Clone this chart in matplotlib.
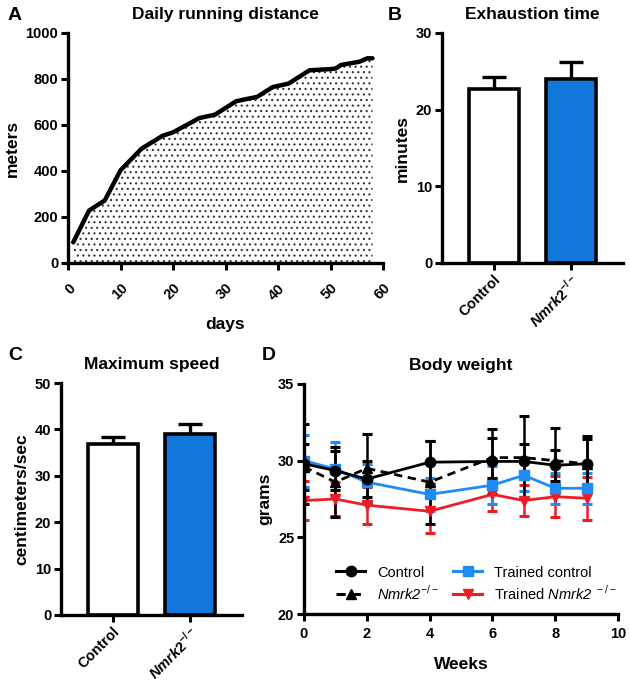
import matplotlib

matplotlib.use("Agg")
import matplotlib.pyplot as plt  # noqa: E402
from matplotlib.lines import Line2D  # noqa: E402

plt.rcParams["font.family"] = ["Liberation Sans", "DejaVu Sans"]
plt.rcParams["font.weight"] = "bold"
plt.rcParams["mathtext.fontset"] = "custom"
plt.rcParams["mathtext.bfit"] = "Liberation Sans:italic:bold"
plt.rcParams["mathtext.sf"] = "Liberation Sans:italic:regular"
plt.rcParams["mathtext.bf"] = "Liberation Sans:bold"
plt.rcParams["mathtext.rm"] = "Liberation Sans:regular"
plt.rcParams["hatch.linewidth"] = 0.8
plt.rcParams["hatch.color"] = "#222222"

# ---------------------------------------------------------------------------
# Data
# ---------------------------------------------------------------------------
# A: daily running distance
days = [1, 4, 7, 10, 14, 18, 20, 25, 28, 32, 34, 36, 39, 42, 46, 50, 51, 52,
        55.5, 57, 58]
meters = [90, 228, 272, 403, 497, 553, 568, 630, 645, 703, 713, 722, 765,
          780, 838, 843, 846, 861, 875, 890, 890]

# B / C: bar groups
groups = ["Control", r"$\mathbfit{Nmrk}\mathbf{2}^{\mathbf{-/-}}$"]
exhaustion_min = [22.7, 24.0]
exhaustion_err = [1.6, 2.2]
speed_cm_s = [36.8, 39.1]
speed_err = [1.6, 2.1]

# D: body weight
weeks = [0, 1, 2, 4, 6, 7, 8, 9]
control_g = [29.8, 29.35, 28.8, 29.9, 29.95, 29.95, 29.7, 29.8]
control_sd = [2.6, 1.25, 1.2, 1.4, 2.1, 1.15, 1.0, 1.6]
nmrk2_g = [29.6, 28.6, 29.5, 28.6, 30.2, 30.2, 30.0, 29.8]
nmrk2_sd = [1.5, 2.3, 2.25, 2.7, 1.3, 2.7, 2.1, 1.8]
trained_control_g = [30.0, 29.45, 28.6, 27.8, 28.4, 29.05, 28.2, 28.2]
trained_control_sd = [1.7, 1.75, 1.2, 1.1, 1.25, 1.05, 1.0, 1.0]
trained_nmrk2_g = [27.4, 27.5, 27.1, 26.7, 27.8, 27.4, 27.65, 27.55]
trained_nmrk2_sd = [1.3, 1.1, 1.2, 1.4, 1.1, 1.0, 1.35, 1.4]

BAR_BLUE = "#1277DB"
LINE_BLUE = "#1E8CF2"
LINE_RED = "#EE1C24"

W, H = 630, 681
fig = plt.figure(figsize=(W / 100, H / 100), dpi=100)


def px_axes(left, top, right, bottom):
    return fig.add_axes([left / W, 1 - bottom / H, (right - left) / W,
                         (bottom - top) / H])


def style(ax):
    for side in ("top", "right"):
        ax.spines[side].set_visible(False)
    for side in ("left", "bottom"):
        ax.spines[side].set_linewidth(2.4)
    ax.tick_params(width=2.2, length=5, labelsize=10.5, pad=2)
    for lab in ax.get_xticklabels() + ax.get_yticklabels():
        lab.set_fontweight("bold")


def bar_panel(ax, values, errs, ylim, yticks, ylabel, title):
    x = list(range(len(values)))
    ax.errorbar(x, values, yerr=[[0] * len(errs), errs], fmt="none",
                ecolor="black", elinewidth=2.4, capsize=8.5, capthick=2.4,
                zorder=1)
    ax.bar(x, values, width=0.65, color=["white", BAR_BLUE],
           edgecolor="black", linewidth=2.6, zorder=2)
    ax.set_xlim(-0.67, 1.67)
    ax.set_ylim(*ylim)
    ax.set_yticks(yticks)
    ax.set_xticks(x)
    ax.set_xticklabels(groups, rotation=45, ha="right", rotation_mode="anchor")
    ax.set_ylabel(ylabel, fontsize=12.5, fontweight="bold", labelpad=4)
    ax.set_title(title, fontsize=12.5, fontweight="bold", pad=10)
    style(ax)
    ax.tick_params(axis="x", pad=1.5)


# ---------------------------------------------------------------------------
# A
# ---------------------------------------------------------------------------
axA = px_axes(68, 33, 383, 263)
axA.fill_between(days, meters, 0, facecolor="white", hatch="...",
                 edgecolor="#333333", linewidth=0)
axA.plot(days, meters, color="black", lw=3.2, solid_capstyle="round")
axA.set_xlim(0, 60)
axA.set_ylim(0, 1000)
axA.set_xticks(range(0, 61, 10))
axA.set_yticks(range(0, 1001, 200))
axA.set_xticklabels([str(v) for v in range(0, 61, 10)], rotation=45,
                    ha="right", rotation_mode="anchor")
axA.set_xlabel("days", fontsize=12.5, fontweight="bold", labelpad=10)
axA.set_ylabel("meters", fontsize=12.5, fontweight="bold", labelpad=4)
axA.set_title("Daily running distance", fontsize=12.5, fontweight="bold",
              pad=10)
style(axA)
axA.tick_params(axis="x", pad=8)

# ---------------------------------------------------------------------------
# B, C
# ---------------------------------------------------------------------------
axB = px_axes(442, 33, 623, 263)
bar_panel(axB, exhaustion_min, exhaustion_err, (0, 30), [0, 10, 20, 30],
          "minutes", "Exhaustion time")

axC = px_axes(61, 383, 242, 615)
bar_panel(axC, speed_cm_s, speed_err, (0, 50), range(0, 51, 10),
          "centimeters/sec", "Maximum speed")

# ---------------------------------------------------------------------------
# D
# ---------------------------------------------------------------------------
axD = px_axes(304, 384, 618, 614)
series = [
    (trained_nmrk2_g, trained_nmrk2_sd, LINE_RED, "v", "-"),
    (trained_control_g, trained_control_sd, LINE_BLUE, "s", "-"),
    (nmrk2_g, nmrk2_sd, "black", "^", (0, (3, 2))),
    (control_g, control_sd, "black", "o", "-"),
]
for vals, sd, col, mk, ls in series:
    axD.errorbar(weeks, vals, yerr=sd, color=col, ecolor=col, marker=mk,
                 markersize=7.5, linestyle=ls, lw=2.0, elinewidth=1.8,
                 capsize=3.5, capthick=2.2)
axD.set_xlim(0, 10)
axD.set_ylim(20, 35)
axD.set_xticks(range(0, 11, 2))
axD.set_yticks([20, 25, 30, 35])
axD.set_xlabel("Weeks", fontsize=12.5, fontweight="bold", labelpad=12)
axD.set_ylabel("grams", fontsize=12.5, fontweight="bold", labelpad=4)
axD.set_title("Body weight", fontsize=12.5, fontweight="bold", pad=10)
style(axD)
axD.tick_params(axis="x", pad=4)

handles = [
    Line2D([], [], color="black", marker="o", ms=7.5, lw=2.2),
    Line2D([], [], color="black", marker="^", ms=7.5, lw=2.2,
           linestyle=(0, (3, 2))),
    Line2D([], [], color=LINE_BLUE, marker="s", ms=7.5, lw=2.2),
    Line2D([], [], color=LINE_RED, marker="v", ms=7.5, lw=2.2),
]
labels = ["Control", r"$\mathsf{Nmrk2}^{-/-}$", "Trained control",
          r"Trained $\mathsf{Nmrk2}^{\ -/-}$"]
axD.legend(handles, labels, ncol=2, loc="upper left",
           bbox_to_anchor=(0.07, 0.255), frameon=False,
           prop={"size": 10.5, "weight": "normal"}, handlelength=2.0,
           columnspacing=1.0, labelspacing=0.3, handletextpad=0.8,
           borderaxespad=0.3)

# panel letters
for letter, x, y in [("A", 8, 16), ("B", 388, 16), ("C", 8, 356),
                     ("D", 262, 356)]:
    fig.text(x / W, 1 - y / H, letter, fontsize=14, fontweight="bold",
             va="center", ha="left")

fig.savefig("out.png", dpi=100)
